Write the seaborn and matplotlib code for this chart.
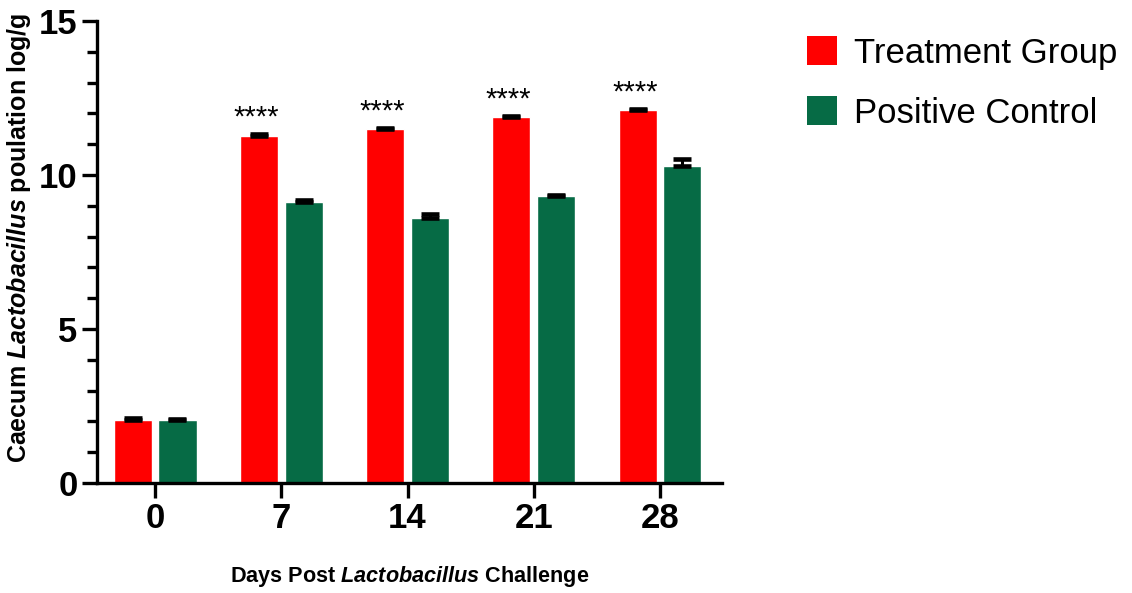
import matplotlib
matplotlib.use("Agg")
import matplotlib.pyplot as plt
from matplotlib.patches import Patch
from matplotlib.ticker import MultipleLocator
import seaborn as sns
import pandas as pd

# Caecum Lactobacillus counts (log/g), mean and upper SEM per sampling day
days = ["0", "7", "14", "21", "28"]
groups = ["Treatment Group", "Positive Control"]
treatment_mean = [2.05, 11.27, 11.49, 11.87, 12.10]
treatment_err = [0.05, 0.05, 0.04, 0.04, 0.04]
control_mean = [2.04, 9.13, 8.59, 9.31, 10.30]
control_err = [0.05, 0.06, 0.14, 0.04, 0.23]
significance = ["", "****", "****", "****", "****"]

colors = {"Treatment Group": "#ff0000", "Positive Control": "#066b45"}

sns.set_style("ticks")
plt.rcParams["font.family"] = ["Liberation Sans", "DejaVu Sans"]
plt.rcParams["mathtext.fontset"] = "custom"
plt.rcParams["mathtext.it"] = "Liberation Sans:italic:bold"
plt.rcParams["mathtext.rm"] = "Liberation Sans:bold"
for key in ("text.color", "axes.labelcolor", "xtick.color", "ytick.color",
            "axes.edgecolor"):
    plt.rcParams[key] = "black"

df = pd.DataFrame({
    "day": days * 2,
    "group": [groups[0]] * len(days) + [groups[1]] * len(days),
    "value": treatment_mean + control_mean,
})
errors = {groups[0]: treatment_err, groups[1]: control_err}

fig = plt.figure(figsize=(11.32, 5.93), dpi=100)
ax = fig.add_axes([0.0857, 0.1855, 0.552, 0.779])

sns.barplot(data=df, x="day", y="value", hue="group", order=days,
            hue_order=groups, palette=colors, width=0.71, gap=0.15,
            saturation=1, errorbar=None, legend=False, ax=ax)

# one-sided (upper) error bars on every bar
for grp, cont in zip(groups, ax.containers):
    for bar, err in zip(cont.patches, errors[grp]):
        xc = bar.get_x() + bar.get_width() / 2
        h = bar.get_height()
        ax.errorbar(xc, h, yerr=[[0], [err]], fmt="none", ecolor="black",
                    elinewidth=2.2, capsize=6.5, capthick=3.3, zorder=3)

# significance stars over the treatment bars
for bar, err, txt in zip(ax.containers[0].patches, treatment_err, significance):
    if txt:
        xc = bar.get_x() + bar.get_width() / 2
        ax.annotate(txt, (xc, bar.get_height() + err), xytext=(-2, 2),
                    textcoords="offset points", ha="center", va="bottom",
                    fontsize=21)

ax.set_xlim(-0.46, 4.49)
ax.set_ylim(0, 15)
ax.yaxis.set_major_locator(MultipleLocator(5))
ax.yaxis.set_minor_locator(MultipleLocator(1))

sns.despine(ax=ax)
for side in ("left", "bottom"):
    ax.spines[side].set_linewidth(2.4)
ax.tick_params(axis="both", which="major", length=11, width=2.4,
               labelsize=25, pad=3)
ax.tick_params(axis="y", which="minor", length=7.5, width=2.4)
for lab in ax.get_xticklabels() + ax.get_yticklabels():
    lab.set_fontweight("bold")

ax.set_ylabel(r"Caecum $Lactobacillus$ poulation log/g", fontsize=18,
              fontweight="bold")
ax.set_xlabel(r"Days Post $Lactobacillus$ Challenge", fontsize=15.6,
              fontweight="bold")
ax.yaxis.set_label_coords(-0.102, 0.531)
ax.xaxis.set_label_coords(0.5, -0.176)

handles = [Patch(facecolor=colors[g], edgecolor="none", label=g) for g in groups]
fig.legend(handles=handles, loc="upper left", bbox_to_anchor=(0.713, 0.939),
           frameon=False, fontsize=25, handlelength=0.85, handleheight=0.9,
           handletextpad=0.5, labelspacing=0.77, borderpad=0, borderaxespad=0)

fig.savefig("out.png", dpi=100)
